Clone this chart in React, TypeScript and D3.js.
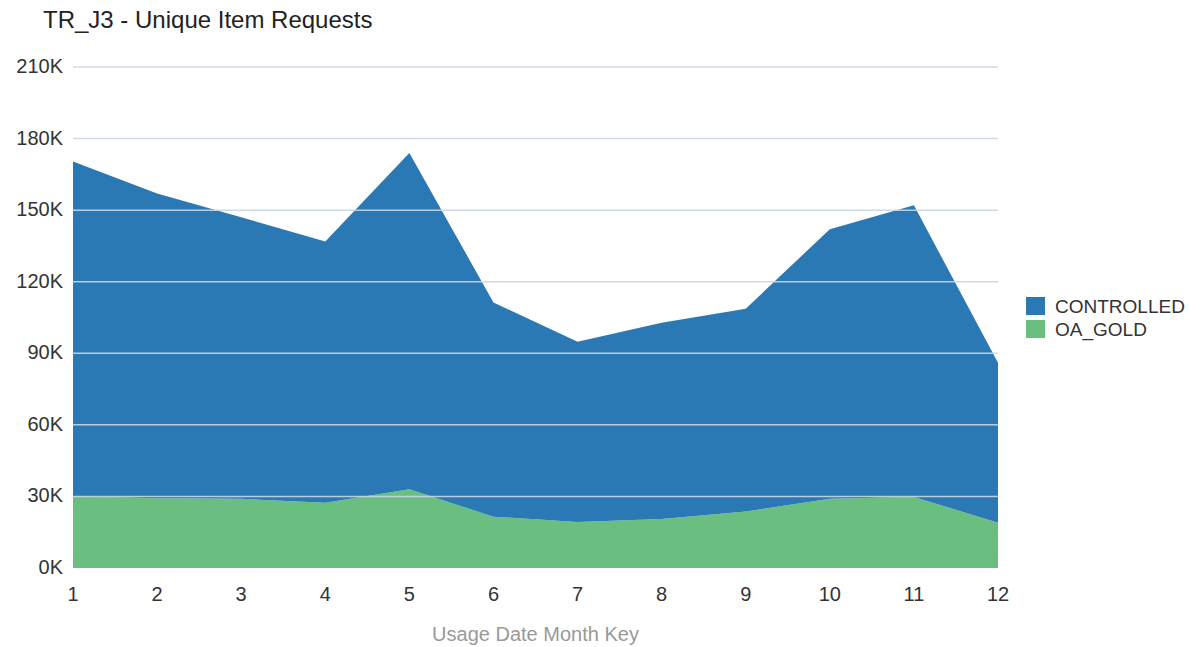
import React, { useEffect, useRef } from "react";
import * as d3 from "d3";

const months = [1, 2, 3, 4, 5, 6, 7, 8, 9, 10, 11, 12];
// OA_GOLD sits at the bottom of the stack
const oaGold = [30000, 29200, 29000, 27400, 33000, 21500, 19300, 20500, 23700, 29000, 29800, 19000];
const totals = [170400, 157000, 147000, 136900, 174000, 111300, 94800, 102800, 108700, 142000, 152000, 86000];
const controlled = totals.map((t, i) => t - oaGold[i]);
const yTicks = [0, 30000, 60000, 90000, 120000, 150000, 180000, 210000];

const seriesKeys = ["OA_GOLD", "CONTROLLED"];
const colors: Record<string, string> = {
  CONTROLLED: "#2a78b4",
  OA_GOLD: "#6abf80",
};
const legendOrder = ["CONTROLLED", "OA_GOLD"];

const App: React.FC = () => {
  const svgRef = useRef<SVGSVGElement>(null);

  useEffect(() => {
    if (!svgRef.current) return;
    const svg = d3.select(svgRef.current);
    svg.selectAll("*").remove();

    const font = "'Liberation Sans', Arial, sans-serif";
    const margin = { top: 67, left: 73, right: 192, bottom: 79 };
    const width = 1190;
    const height = 647;

    const rows = months.map((m, i) => ({
      month: m,
      OA_GOLD: oaGold[i],
      CONTROLLED: controlled[i],
    }));
    const stacked = d3.stack<any>().keys(seriesKeys)(rows);

    const x = d3
      .scaleLinear()
      .domain([1, 12])
      .range([margin.left, width - margin.right]);
    const y = d3
      .scaleLinear()
      .domain([0, 210000])
      .range([height - margin.bottom, margin.top]);

    // Title
    svg
      .append("text")
      .attr("x", 43)
      .attr("y", 28)
      .attr("font-family", font)
      .attr("font-size", "24px")
      .attr("fill", "#222")
      .text("TR_J3 - Unique Item Requests");

    // Areas
    const area = d3
      .area<any>()
      .x((d) => x(d.data.month))
      .y0((d) => y(d[0]))
      .y1((d) => y(d[1]));

    svg
      .append("g")
      .selectAll("path")
      .data(stacked)
      .enter()
      .append("path")
      .attr("d", area as any)
      .attr("fill", (d) => colors[d.key]);

    // Grid lines (drawn over the areas)
    svg
      .append("g")
      .selectAll("line")
      .data(yTicks.filter((t) => t > 0))
      .enter()
      .append("line")
      .attr("x1", x(1))
      .attr("x2", x(12))
      .attr("y1", (d) => y(d))
      .attr("y2", (d) => y(d))
      .attr("stroke", "#c9d6e4")
      .attr("stroke-opacity", 0.9)
      .attr("stroke-width", 1.5);

    // Y axis labels
    svg
      .append("g")
      .selectAll("text")
      .data(yTicks)
      .enter()
      .append("text")
      .attr("x", 63)
      .attr("y", (d) => y(d) + 6)
      .attr("text-anchor", "end")
      .attr("font-family", font)
      .attr("font-size", "20px")
      .attr("fill", "#333")
      .text((d) => `${d / 1000}K`);

    // X axis labels
    svg
      .append("g")
      .selectAll("text")
      .data(months)
      .enter()
      .append("text")
      .attr("x", (d) => x(d))
      .attr("y", 601)
      .attr("text-anchor", "middle")
      .attr("font-family", font)
      .attr("font-size", "20px")
      .attr("fill", "#333")
      .text((d) => d);

    // X axis title
    svg
      .append("text")
      .attr("x", (x(1) + x(12)) / 2)
      .attr("y", 641)
      .attr("text-anchor", "middle")
      .attr("font-family", font)
      .attr("font-size", "20px")
      .attr("fill", "#999")
      .text("Usage Date Month Key");

    // Legend
    const legend = svg
      .append("g")
      .selectAll("g")
      .data(legendOrder)
      .enter()
      .append("g")
      .attr("transform", (d, i) => `translate(1026, ${297 + i * 23})`);
    legend
      .append("rect")
      .attr("width", 19)
      .attr("height", 18)
      .attr("fill", (d) => colors[d]);
    legend
      .append("text")
      .attr("x", 29)
      .attr("y", 16)
      .attr("font-family", font)
      .attr("font-size", "19px")
      .attr("fill", "#333")
      .text((d) => d);
  }, []);

  return (
    <svg
      ref={svgRef}
      width={1190}
      height={647}
      style={{ position: "absolute", left: 0, top: 0, background: "#fff" }}
    />
  );
};

export default App;
